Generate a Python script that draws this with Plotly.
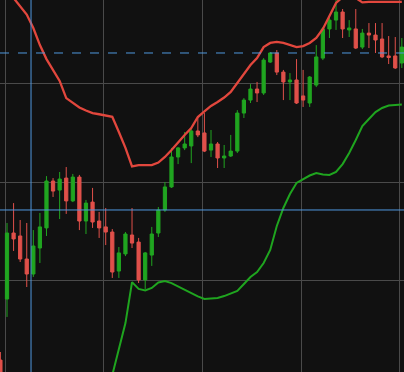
import plotly.graph_objects as go

# candle index positions
idx = list(range(-1, 61))

open_ = [40.96, 44.06, 47.41, 47.26, 46.09, 45.33, 46.65, 47.67, 50.05, 49.59, 50.20,
         49.04, 50.25, 48.02, 48.98, 48.02, 47.72, 47.46, 45.48, 46.35, 47.31, 46.95,
         45.03, 46.29, 47.41, 48.58, 49.75, 51.27, 51.73, 51.83, 52.59, 52.49, 51.62,
         51.93, 51.22, 51.32, 51.57, 53.50, 54.16, 54.72, 54.52, 56.09, 56.55, 55.58,
         55.08, 55.18, 54.37, 54.01, 54.92, 56.29, 57.77, 58.22, 58.63, 57.72, 57.77,
         56.85, 57.56, 57.46, 57.26, 56.40, 56.40, 56.04]
high = [41.37, 47.92, 48.93, 48.07, 47.92, 47.56, 48.43, 50.30, 50.20, 50.51, 50.76,
        50.41, 50.36, 49.09, 49.70, 48.48, 48.68, 47.61, 46.70, 47.46, 48.68, 47.16,
        46.45, 47.72, 48.73, 50.00, 51.73, 51.78, 52.54, 52.74, 53.30, 53.50, 52.64,
        52.03, 51.88, 52.39, 53.65, 54.26, 54.97, 55.08, 56.29, 56.60, 56.70, 55.69,
        55.53, 56.24, 55.69, 55.38, 56.95, 57.87, 58.48, 59.34, 58.78, 58.22, 58.78,
        57.77, 58.07, 58.07, 58.07, 57.41, 57.36, 57.31]
low = [39.34, 43.15, 46.50, 45.94, 44.67, 45.18, 45.89, 47.26, 49.24, 48.12, 48.38,
       48.98, 47.56, 47.36, 47.67, 47.16, 46.80, 45.13, 45.13, 46.24, 46.65, 44.87,
       44.57, 45.74, 47.21, 48.48, 49.70, 50.91, 51.62, 50.96, 52.28, 51.52, 51.27,
       50.71, 50.71, 51.27, 51.47, 53.25, 54.01, 54.06, 54.42, 56.04, 55.43, 54.16,
       54.16, 53.96, 53.81, 53.81, 54.82, 56.19, 57.31, 57.72, 57.31, 57.36, 56.75,
       56.75, 56.80, 56.55, 56.29, 55.99, 55.74, 55.79]
close = [39.70, 47.41, 47.11, 46.09, 45.33, 46.75, 47.72, 50.05, 49.54, 50.15, 49.04,
         50.25, 48.02, 48.93, 47.97, 47.67, 47.46, 45.43, 46.40, 47.36, 46.90, 45.03,
         46.40, 47.36, 48.58, 49.75, 51.27, 51.73, 51.93, 52.59, 52.39, 51.57, 51.93,
         51.22, 51.32, 51.57, 53.50, 54.16, 54.72, 54.52, 56.19, 56.55, 55.58, 55.08,
         55.18, 54.01, 54.16, 55.33, 56.35, 57.77, 58.22, 58.63, 57.77, 57.82, 56.80,
         57.56, 57.46, 57.21, 56.35, 56.32, 55.79, 56.85]

upper_band = [60.51, 59.85, 59.34, 58.91, 58.50, 57.82, 56.95, 56.24, 55.66, 55.13, 54.26,
              54.01, 53.78, 53.63, 53.50, 53.44, 53.39, 53.31, 52.54, 51.73, 50.79, 50.86,
              50.86, 50.86, 50.99, 51.27, 51.62, 52.03, 52.39, 52.74, 53.30, 53.58, 53.86,
              54.06, 54.29, 54.57, 55.03, 55.48, 55.94, 56.29, 56.85, 57.06, 57.11, 57.06,
              56.97, 56.85, 56.90, 57.06, 57.31, 57.77, 58.43, 59.09, 59.39, 59.54, 59.34,
              59.12, 59.14, 59.14, 59.14, 59.14, 59.14, 59.14]
lower_band = [34.00, 34.30, 34.60, 35.00, 35.40, 35.80, 36.20, 36.60, 37.00, 37.30, 37.60,
              37.90, 38.20, 38.50, 38.80, 39.10, 39.40, 40.20, 41.52, 42.84, 44.92, 44.57,
              44.49, 44.62, 44.90, 44.97, 44.87, 44.70, 44.52, 44.37, 44.19, 44.06, 44.09,
              44.11, 44.21, 44.34, 44.47, 44.82, 45.18, 45.43, 45.89, 46.55, 47.77, 48.68,
              49.39, 49.95, 50.15, 50.33, 50.46, 50.38, 50.36, 50.51, 50.91, 51.47, 52.13,
              52.84, 53.20, 53.55, 53.76, 53.88, 53.91, 53.93]

crosshair_x = 3.65
crosshair_y = 48.58
price_line_y = 56.55

x_range = [-1.064, 60.33]
y_range = [40.355, 59.24]
grid_x0, grid_dx = -0.3, 15
grid_y0, grid_dy = 45, 5

BG = "#111111"
GRID = "#4a4a4a"
UP = "#20a520"
DOWN = "#e0504a"
BLUE = "#4f98df"

fig = go.Figure()
fig.add_trace(go.Candlestick(
    x=idx, open=open_, high=high, low=low, close=close,
    increasing=dict(line=dict(color=UP, width=1), fillcolor=UP),
    decreasing=dict(line=dict(color=DOWN, width=1), fillcolor=DOWN),
    whiskerwidth=0, showlegend=False, hoverinfo="skip"))
fig.add_trace(go.Scatter(x=idx, y=upper_band, mode="lines",
                         line=dict(color="#e2473d", width=2.3), showlegend=False, hoverinfo="skip"))
fig.add_trace(go.Scatter(x=idx, y=lower_band, mode="lines",
                         line=dict(color="#1fa51f", width=2), showlegend=False, hoverinfo="skip"))

fig.add_shape(type="line", xref="paper", yref="y", x0=0, x1=1, y0=price_line_y, y1=price_line_y,
              line=dict(color=BLUE, width=1, dash="dash"))
fig.add_shape(type="line", xref="paper", yref="y", x0=0, x1=1, y0=crosshair_y, y1=crosshair_y,
              line=dict(color=BLUE, width=1))
fig.add_shape(type="line", xref="x", yref="paper", x0=crosshair_x, x1=crosshair_x, y0=0, y1=1,
              line=dict(color=BLUE, width=1))

fig.update_layout(
    width=404, height=372, margin=dict(l=0, r=0, t=0, b=0),
    paper_bgcolor=BG, plot_bgcolor=BG, boxgap=0.3,
    xaxis=dict(range=x_range, showticklabels=False, showgrid=True, gridcolor=GRID, gridwidth=1,
               tick0=grid_x0, dtick=grid_dx, zeroline=False, rangeslider=dict(visible=False),
               showline=False, fixedrange=True),
    yaxis=dict(range=y_range, showticklabels=False, showgrid=True, gridcolor=GRID, gridwidth=1,
               tick0=grid_y0, dtick=grid_dy, zeroline=False, showline=False, fixedrange=True),
)
fig.write_html(
    "out.html",
    config={"displayModeBar": False, "staticPlot": True},
    post_script="document.body.style.margin='0';document.body.style.overflow='hidden';document.body.style.background='#111111';",
)
